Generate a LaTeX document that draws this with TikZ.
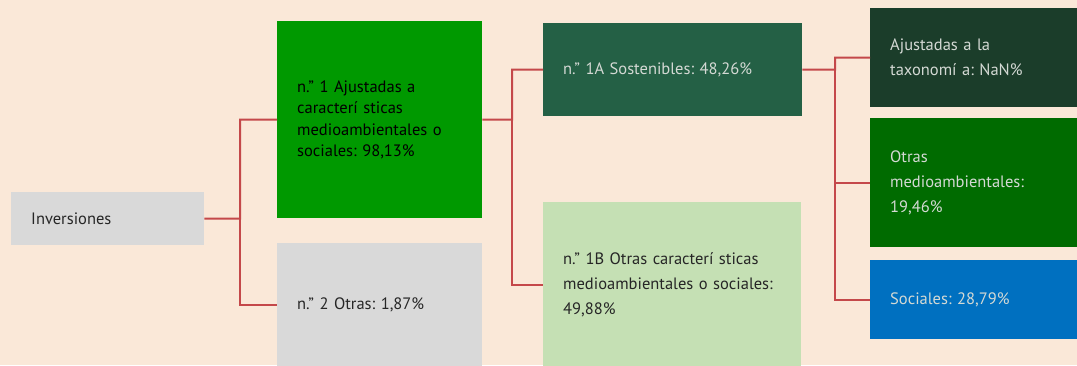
\documentclass[tikz,border=0pt]{standalone}
\usepackage{fontspec}
\setmainfont{PT Sans}
\frenchspacing
\usetikzlibrary{positioning}
\definecolor{bgpeach}{HTML}{FAE8D8}
\definecolor{boxgrey}{HTML}{D9D9D9}
\definecolor{boxgreen}{HTML}{009900}
\definecolor{boxsost}{HTML}{246045}
\definecolor{boxotras}{HTML}{C5E0B4}
\definecolor{boxtax}{HTML}{1B3D2A}
\definecolor{boxmed}{HTML}{006B00}
\definecolor{boxsoc}{HTML}{0070C0}
\definecolor{linkred}{HTML}{C4484A}
\definecolor{textdark}{HTML}{262626}
\definecolor{textlight}{HTML}{D4D9D4}

\begin{document}
\begin{tikzpicture}[x=1pt,y=-1pt,
  box/.style={anchor=north west,inner xsep=20pt,inner ysep=0pt,align=left,
    font=\fontsize{16.5}{25}\selectfont},
  link/.style={draw=linkred,line width=2pt}]
  % background
  \fill[bgpeach] (0,0) rectangle (1077,365);
  \useasboundingbox (0,0) rectangle (1077,365);
  % first level
  \node[box,fill=boxgrey,text=textdark,text width=153pt,minimum height=53pt] at(11,192)(inv){Inversiones};
  % second level
  \node[box,fill=boxgreen,text=black,text width=165pt,minimum height=197pt,
    font=\fontsize{16.5}{21.5}\selectfont] at(277,21)(n1){n.” 1 Ajustadas a\\caracterí sticas\\medioambientales o\\sociales: 98,13\%};
  \node[box,fill=boxgrey,text=textdark,text width=165pt,minimum height=124pt] at(277,243)(n2){n.” 2 Otras: 1,87\%};
  % third level
  \node[box,fill=boxsost,text=textlight,text width=219pt,minimum height=93pt] at(543,23)(n1a){n.” 1A Sostenibles: 48,26\%};
  \node[box,fill=boxotras,text=textdark,text width=218pt,minimum height=165pt] at(543,202)(n1b){n.” 1B Otras caracterí sticas\\medioambientales o sociales:\\49,88\%};
  % fourth level
  \node[box,fill=boxtax,text=textlight,text width=170pt,minimum height=99pt] at(870,8)(tax){Ajustadas a la\\taxonomí a: NaN\%};
  \node[box,fill=boxmed,text=textlight,text width=170pt,minimum height=129pt] at(870,118)(oma){Otras\\medioambientales:\\19,46\%};
  \node[box,fill=boxsoc,text=textlight,text width=170pt,minimum height=79pt] at(870,260)(soc){Sociales: 28,79\%};
  % connectors
  \coordinate (j1) at (240,218.5);
  \coordinate (j2) at (512,119.5);
  \coordinate (j3) at (835,69.5);
  \draw[link] (inv) -- (j1) |- (n1);
  \draw[link] (j1) |- (n2);
  \draw[link] (n1) -- (j2) |- (n1a);
  \draw[link] (j2) |- (n1b);
  \draw[link] (n1a) -- (j3) |- (tax);
  \draw[link] (j3) |- (oma);
  \draw[link] (j3) |- (soc);
\end{tikzpicture}
\end{document}
